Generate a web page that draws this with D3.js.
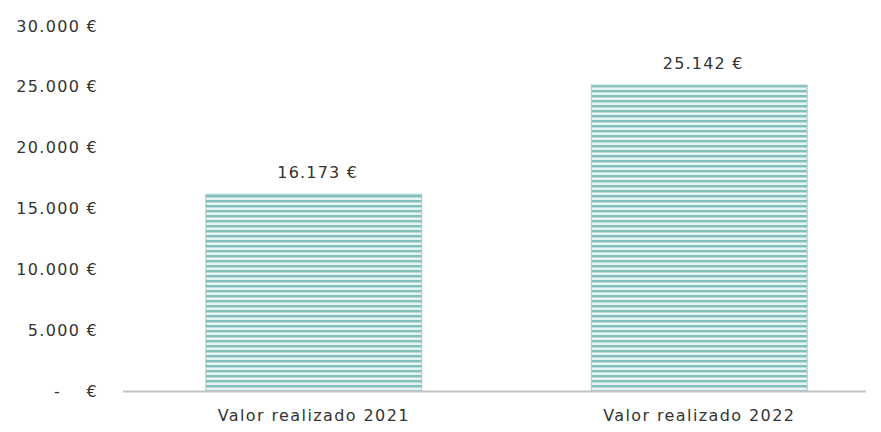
<!DOCTYPE html>
<html>
<head>
<meta charset="utf-8">
<script src="https://cdn.jsdelivr.net/npm/d3@7"></script>
<style>
  html, body { margin: 0; padding: 0; background: #fff; }
  svg { display: block; }
  text { font-family: "DejaVu Sans", sans-serif; fill: #333; }
</style>
</head>
<body>
<svg id="chart" width="881" height="432"></svg>
<script>
// Realised value per year (EUR)
const categories = ["Valor realizado 2021", "Valor realizado 2022"];
const values = [16173, 25142];
const tickValues = [0, 5000, 10000, 15000, 20000, 25000, 30000];

const svg = d3.select("#chart");

const x = d3.scaleBand().domain(categories).range([121, 892]).paddingInner(0.44).paddingOuter(0.22);
const y = d3.scaleLinear().domain([0, 30000]).range([391, 26]);

// Euro format with dot thousands separator; zero shown as a dash
const fmt = v => v === 0 ? "-\u00a0\u00a0\u00a0\u00a0€" : d3.format(",")(v).replace(/,/g, ".") + " €";

// Horizontal stripe fill for the bars
const defs = svg.append("defs");
const pat = defs.append("pattern")
  .attr("id", "stripes").attr("patternUnits", "userSpaceOnUse")
  .attr("width", 10).attr("height", 5);
pat.append("rect").attr("width", 10).attr("height", 5).attr("fill", "#e6f4f3");
pat.append("rect").attr("y", 0).attr("width", 10).attr("height", 2.4).attr("fill", "#82bfba");

// Y axis labels (no line or ticks)
const yAxis = d3.axisLeft(y).tickValues(tickValues).tickFormat(fmt).tickSize(0).tickPadding(0);
const gy = svg.append("g").attr("transform", "translate(98,0)").call(yAxis);
gy.select(".domain").remove();
gy.selectAll("text")
  .attr("font-family", "DejaVu Sans, sans-serif")
  .attr("font-size", 16).attr("fill", "#333")
  .attr("letter-spacing", 1.3)
  .style("white-space", "pre");

// Bars
svg.append("g").selectAll("rect").data(values).join("rect")
  .attr("x", (d, i) => x(categories[i]))
  .attr("y", d => y(d))
  .attr("width", x.bandwidth())
  .attr("height", d => y(0) - y(d))
  .attr("fill", "url(#stripes)")
  .attr("stroke", "#9fcfcb").attr("stroke-width", 1);

// Baseline
svg.append("line")
  .attr("x1", 123).attr("x2", 866)
  .attr("y1", y(0) + 0.5).attr("y2", y(0) + 0.5)
  .attr("stroke", "#c4c4c4").attr("stroke-width", 2);

// Value labels above bars
svg.append("g").selectAll("text").data(values).join("text")
  .attr("x", (d, i) => x(categories[i]) + x.bandwidth() / 2 + 4)
  .attr("y", d => y(d) - 16)
  .attr("text-anchor", "middle")
  .attr("font-size", 16)
  .attr("letter-spacing", 1.2)
  .text(d => fmt(d));

// Category labels
const xAxis = d3.axisBottom(x).tickSize(0).tickPadding(0);
const gx = svg.append("g").attr("transform", `translate(0,${y(0) + 30})`).call(xAxis);
gx.select(".domain").remove();
gx.selectAll("text")
  .attr("font-family", "DejaVu Sans, sans-serif")
  .attr("font-size", 16).attr("fill", "#333")
  .attr("letter-spacing", 1.4)
  .attr("dy", 0);
</script>
</body>
</html>
